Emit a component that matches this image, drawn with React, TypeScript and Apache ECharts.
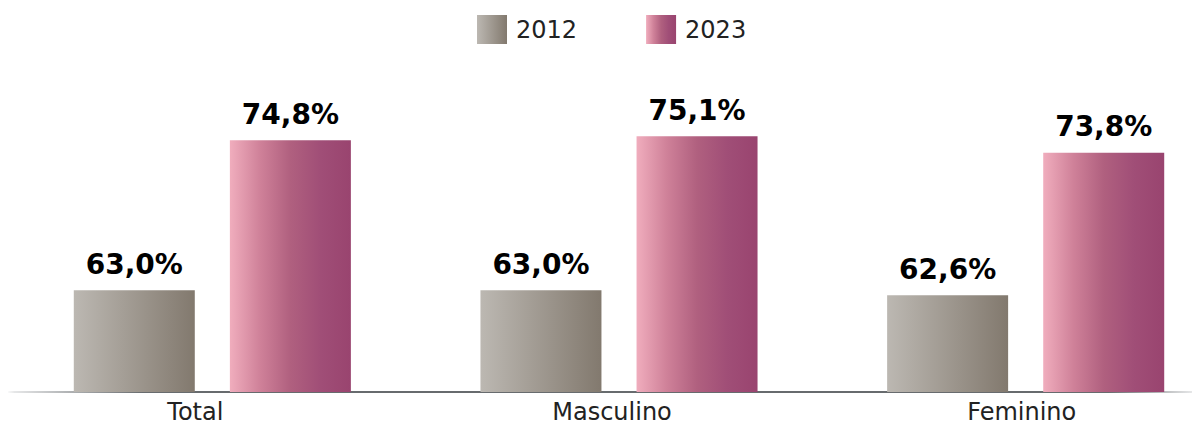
import React, { useEffect, useRef } from "react";
import * as echarts from "echarts";

const categories = ["Total", "Masculino", "Feminino"];
const seriesNames = ["2012", "2023"];
const values2012 = [63.0, 63.0, 62.6];
const values2023 = [74.8, 75.1, 73.8];

const fmt = (v: number) => v.toFixed(1).replace(".", ",") + "%";

export default function App() {
  const ref = useRef<HTMLDivElement>(null);
  useEffect(() => {
    document.body.style.margin = "0";
    const chart = echarts.init(ref.current!, null, { renderer: "svg" });
    const grad2012 = new echarts.graphic.LinearGradient(0, 0, 1, 0, [
      { offset: 0, color: "#bcb8b2" },
      { offset: 1, color: "#82796e" },
    ]);
    const grad2023 = new echarts.graphic.LinearGradient(0, 0, 1, 0, [
      { offset: 0, color: "#f0adbd" },
      { offset: 0.25, color: "#cf8199" },
      { offset: 0.5, color: "#b0607f" },
      { offset: 0.75, color: "#a04e77" },
      { offset: 1, color: "#99446f" },
    ]);
    const axisGrad = new echarts.graphic.LinearGradient(
      0,
      0,
      1192,
      0,
      [
        { offset: 0, color: "rgba(255,255,255,0)" },
        { offset: 0.012, color: "#e6e7e8" },
        { offset: 0.12, color: "#676b6e" },
        { offset: 0.93, color: "#676b6e" },
        { offset: 1, color: "#e6e7e8" },
      ],
      true
    );
    const label = {
      show: true,
      position: "top",
      distance: 12,
      formatter: (p: any) => fmt(p.value),
      fontFamily: "DejaVu Sans",
      fontWeight: "bold",
      fontSize: 28,
      color: "#000",
    };
    const labelShift = [34, 14, 8];
    chart.setOption({
      animation: false,
      legend: {
        left: 477,
        top: 15,
        padding: 0,
        itemWidth: 30,
        itemHeight: 29,
        itemGap: 69,
        icon: "rect",
        data: seriesNames,
        textStyle: {
          fontFamily: "DejaVu Sans",
          fontSize: 24,
          color: "#222",
          padding: [0, 0, 0, 4],
        },
      },
      grid: { left: 9, right: 0, top: 74, bottom: 33 },
      xAxis: {
        type: "category",
        data: categories.map((c, i) => ({
          value: c,
          textStyle: { padding: [0, labelShift[i], 0, 0] },
        })),
        axisTick: { show: false },
        axisLine: { show: true, lineStyle: { color: axisGrad, width: 2 } },
        axisLabel: {
          fontFamily: "DejaVu Sans",
          fontSize: 24,
          color: "#222",
          margin: 8,
        },
      },
      yAxis: {
        type: "value",
        min: 55,
        max: 80,
        show: false,
        splitLine: { show: false },
      },
      series: [
        {
          name: seriesNames[0],
          type: "bar",
          data: values2012,
          barWidth: 121,
          barGap: "29%",
          itemStyle: { color: grad2012 },
          label,
        },
        {
          name: seriesNames[1],
          type: "bar",
          data: values2023,
          barWidth: 121,
          barGap: "29%",
          itemStyle: { color: grad2023 },
          label,
        },
      ],
    });
    return () => chart.dispose();
  }, []);
  return (
    <div style={{ width: 1192, height: 425, overflow: "hidden" }}>
      <div ref={ref} style={{ width: 1229, height: 425 }} />
    </div>
  );
}
